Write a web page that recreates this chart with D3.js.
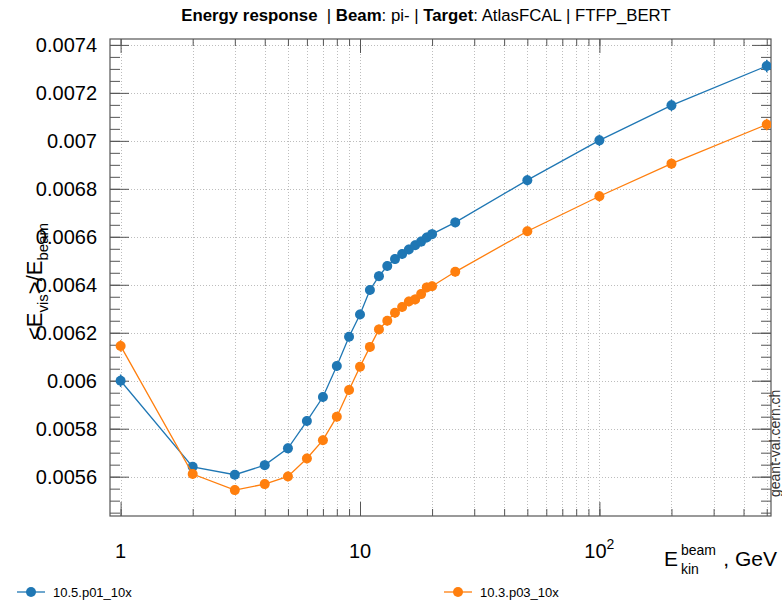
<!DOCTYPE html>
<html><head><meta charset="utf-8">
<script src="https://cdn.jsdelivr.net/npm/d3@7"></script>
<style>body{margin:0;background:#fff;} svg{display:block;font-family:"Liberation Sans",Arial,sans-serif;}</style>
</head><body>
<svg id="c" width="782" height="600"></svg>
<script>
const energies = [1,2,3,4,5,6,7,8,9,10,11,12,13,14,15,16,17,18,19,20,25,50,100,200,500];
const seriesNames = ["10.5.p01_10x", "10.3.p03_10x"];
const blueValues = [0.006000,0.005641,0.005608,0.005648,0.005718,0.005832,0.005932,0.006061,0.006183,0.006276,0.006378,0.006436,0.006478,0.006507,0.006528,0.006547,0.006565,0.006580,0.006597,0.006611,0.006660,0.006836,0.007002,0.007148,0.007312];
const orangeValues = [0.006145,0.005611,0.005544,0.005569,0.005601,0.005676,0.005752,0.005850,0.005961,0.006058,0.006141,0.006214,0.006250,0.006283,0.006307,0.006330,0.006339,0.006361,0.006389,0.006394,0.006454,0.006623,0.006769,0.006905,0.007068];
const blueErrors = [0.000026,0.00002,0.00002,0.00002,0.00002,0.00002,0.00002,0.00002,0.00002,0.00002,0.00002,0.00002,0.00002,0.00002,0.00002,0.00002,0.00002,0.00002,0.00002,0.00002,0.00002,0.000022,0.000024,0.000024,0.000026];
const orangeErrors = [0.000024,0.00002,0.00002,0.00002,0.00002,0.00002,0.00002,0.00002,0.00002,0.00002,0.00002,0.00002,0.00002,0.00002,0.00002,0.00002,0.00002,0.00002,0.00002,0.00002,0.00002,0.00002,0.000022,0.000022,0.000024];
const yMajorTicks = [0.0056,0.0058,0.006,0.0062,0.0064,0.0066,0.0068,0.007,0.0072,0.0074];
const xMajorTicks = [1,10,100];
const xTickLabels = ["1","10","10^2"];
const colors = ["#1f77b4","#ff7f0e"];

const svg = d3.select("#c");
const L=110, R=771, T=39, B=516;
const x = d3.scaleLog().domain([0.903,521]).range([L,R]);
const y = d3.scaleLinear().domain([0.005436,0.0074246]).range([B,T]);

// minor ticks
const xMinor = [];
[1,10,100].forEach(d=>{for(let k=1;k<10;k++){const v=d*k; if(v>=0.903&&v<=521) xMinor.push(v);}});
const yMinor = d3.range(0.00545,0.00742,0.00005).map(v=>+v.toFixed(5)).filter(v=>v>=0.005436&&v<=0.0074246);

// grid
const grid = svg.append("g").attr("stroke","#bdbdbd").attr("stroke-width",1).attr("stroke-dasharray","1,2");
grid.selectAll(".gx").data(xMinor).join("line").attr("x1",d=>Math.round(x(d))+0.5).attr("x2",d=>Math.round(x(d))+0.5).attr("y1",T).attr("y2",B);
grid.selectAll(".gy").data(yMajorTicks).join("line").attr("y1",d=>Math.round(y(d))+0.5).attr("y2",d=>Math.round(y(d))+0.5).attr("x1",L).attr("x2",R);

// axes
const axisColor="#555";
function styleAxis(g){g.select(".domain").remove(); g.selectAll("line").attr("stroke",axisColor);}
const yl = svg.append("g").attr("transform",`translate(${L},0)`)
  .call(d3.axisLeft(y).tickValues(yMajorTicks).tickSize(-19).tickPadding(13).tickFormat(d=>String(+d.toFixed(4))));
styleAxis(yl);
yl.selectAll("text").attr("font-size",20).attr("fill","#000").attr("font-family","Liberation Sans, Arial, sans-serif");
svg.append("g").attr("transform",`translate(${L},0)`).call(d3.axisLeft(y).tickValues(yMinor).tickSize(-10).tickFormat("")).call(styleAxis);
svg.append("g").attr("transform",`translate(${R},0)`).call(d3.axisRight(y).tickValues(yMajorTicks).tickSize(-19).tickFormat("")).call(styleAxis);
svg.append("g").attr("transform",`translate(${R},0)`).call(d3.axisRight(y).tickValues(yMinor).tickSize(-10).tickFormat("")).call(styleAxis);
const xb = svg.append("g").attr("transform",`translate(0,${B})`).call(d3.axisBottom(x).tickValues(xMajorTicks).tickSize(-14).tickFormat(""));
styleAxis(xb);
svg.append("g").attr("transform",`translate(0,${B})`).call(d3.axisBottom(x).tickValues(xMinor).tickSize(-7).tickFormat("")).call(styleAxis);
svg.append("g").attr("transform",`translate(0,${T})`).call(d3.axisTop(x).tickValues(xMajorTicks).tickSize(-14).tickFormat("")).call(styleAxis);
svg.append("g").attr("transform",`translate(0,${T})`).call(d3.axisTop(x).tickValues(xMinor).tickSize(-7).tickFormat("")).call(styleAxis);

// x tick labels
xMajorTicks.forEach((v,i)=>{
  const lab = xTickLabels[i];
  const t = svg.append("text").attr("x",x(v)).attr("y",558).attr("font-size",20).attr("text-anchor","middle");
  if(lab.includes("^")){
    const [b,e]=lab.split("^");
    t.append("tspan").text(b);
    t.append("tspan").attr("font-size",14).attr("dy",-9).text(e);
  } else t.text(lab);
});

// frame
svg.append("rect").attr("x",L).attr("y",T).attr("width",R-L).attr("height",B-T).attr("fill","none").attr("stroke",axisColor).attr("stroke-width",1.2);

// series
svg.append("clipPath").attr("id","clp").append("rect").attr("x",L).attr("y",T).attr("width",R-L).attr("height",B-T);
const series=[blueValues,orangeValues];
const errs=[blueErrors,orangeErrors];
const line = d3.line().x((d,i)=>x(energies[i])).y(d=>y(d));
series.forEach((vals,si)=>{
  const g = svg.append("g").attr("clip-path","url(#clp)");
  g.append("path").datum(vals).attr("d",line).attr("fill","none").attr("stroke",colors[si]).attr("stroke-width",1.3);
  g.selectAll(".e").data(vals).join("line").attr("x1",(d,i)=>x(energies[i])).attr("x2",(d,i)=>x(energies[i]))
    .attr("y1",(d,i)=>y(d-errs[si][i])).attr("y2",(d,i)=>y(d+errs[si][i])).attr("stroke",colors[si]).attr("stroke-width",1.5);
  g.selectAll("circle").data(vals).join("circle").attr("cx",(d,i)=>x(energies[i])).attr("cy",d=>y(d)).attr("r",5).attr("fill",colors[si]);
});

// title
const title = svg.append("text").attr("x",426).attr("y",21).attr("text-anchor","middle").attr("font-size",16.8);
[["Energy response",true],["  | ",false],["Beam",true],[": pi- | ",false],["Target",true],[": AtlasFCAL | FTFP_BERT",false]].forEach(([s,b])=>{
  title.append("tspan").attr("font-weight",b?"bold":"normal").attr("xml:space","preserve").text(s);
});

// y label
const yt = svg.append("text").attr("transform","translate(42,340) rotate(-90)").attr("font-size",22).attr("text-anchor","start");
yt.append("tspan").text("<E");
yt.append("tspan").attr("font-size",15).attr("dy",6).text("vis");
yt.append("tspan").attr("dy",-6).text(">/E");
yt.append("tspan").attr("font-size",15).attr("dy",6).text("beam");

// x label
svg.append("text").attr("x",777).attr("y",566).attr("font-size",21).attr("text-anchor","end").text(", GeV");
svg.append("text").attr("x",664).attr("y",566).attr("font-size",21).text("E");
svg.append("text").attr("x",681).attr("y",555).attr("font-size",14).text("beam");
svg.append("text").attr("x",681).attr("y",574).attr("font-size",14).text("kin");

// legend
const legX=[17,444];
seriesNames.forEach((n,i)=>{
  const g=svg.append("g");
  g.append("line").attr("x1",legX[i]).attr("x2",legX[i]+28).attr("y1",592).attr("y2",592).attr("stroke",colors[i]).attr("stroke-width",1.3);
  g.append("circle").attr("cx",legX[i]+14).attr("cy",592).attr("r",5).attr("fill",colors[i]);
  g.append("text").attr("x",legX[i]+36).attr("y",597).attr("font-size",13).text(n);
});

// watermark
svg.append("text").attr("transform","translate(780,497) rotate(-90)").attr("font-size",14).attr("fill","#333").text("geant-val.cern.ch");
</script>
</body></html>
